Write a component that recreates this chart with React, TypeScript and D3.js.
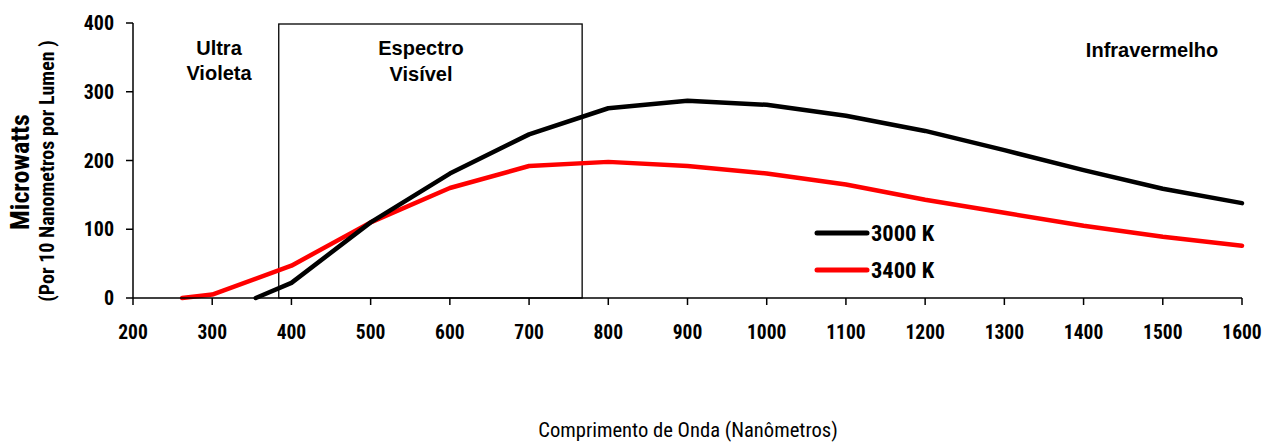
import React from "react";
import * as d3 from "d3";

const xTicks = [200, 300, 400, 500, 600, 700, 800, 900, 1000, 1100, 1200, 1300, 1400, 1500, 1600];
const yTicks = [0, 100, 200, 300, 400];

const series3000X = [355, 400, 500, 600, 700, 800, 900, 1000, 1100, 1200, 1300, 1400, 1500, 1600];
const series3000Y = [0, 22, 110, 181, 238, 276, 287, 281, 265, 243, 215, 186, 159, 138];
const series3400X = [262, 300, 400, 500, 600, 700, 800, 900, 1000, 1100, 1200, 1300, 1400, 1500, 1600];
const series3400Y = [0, 5, 47, 110, 160, 192, 198, 192, 181, 165, 143, 124, 105, 89, 76];

const visibleRange = [384, 767];
const seriesNames = ["3000 K", "3400 K"];
const seriesColors = ["#000000", "#ff0000"];

const FONT = "'Liberation Sans Narrow', 'Roboto Condensed', 'Arial Narrow', 'Liberation Sans', sans-serif";
const WIDE = "'Liberation Sans', Arial, sans-serif";

export default function App() {
  const W = 1264, H = 443;
  const x = d3.scaleLinear().domain([200, 1600]).range([133, 1242]);
  const y = d3.scaleLinear().domain([0, 400]).range([298, 23]);
  const line = d3.line<[number, number]>().x(d => x(d[0])).y(d => y(d[1]));
  const d1 = line(series3000X.map((v, i) => [v, series3000Y[i]]));
  const d2 = line(series3400X.map((v, i) => [v, series3400Y[i]]));

  return (
    <svg width={W} height={H} style={{ position: "absolute", left: 0, top: 0, display: "block" }} fontFamily={FONT}>
      <rect x={0} y={0} width={W} height={H} fill="#fff" />
      {/* visible spectrum box */}
      <rect x={x(visibleRange[0])} y={y(400) + 1} width={x(visibleRange[1]) - x(visibleRange[0])} height={y(0) - y(400) - 1} fill="none" stroke="#000" strokeWidth={1.3} />
      {/* series */}
      <path d={d2 || ""} fill="none" stroke={seriesColors[1]} strokeWidth={4.5} strokeLinejoin="round" strokeLinecap="round" />
      <path d={d1 || ""} fill="none" stroke={seriesColors[0]} strokeWidth={4.5} strokeLinejoin="round" strokeLinecap="round" />
      {/* axes */}
      <line x1={x(200)} x2={x(200)} y1={y(400)} y2={y(0)} stroke="#000" strokeWidth={1.5} />
      <line x1={x(200)} x2={x(1600)} y1={y(0)} y2={y(0)} stroke="#000" strokeWidth={1.5} />
      {yTicks.map(t => (
        <g key={"y" + t}>
          <line x1={x(200) - 7} x2={x(200)} y1={y(t)} y2={y(t)} stroke="#000" strokeWidth={1.5} />
          <text x={x(200) - 19} y={y(t)} dy="0.36em" textAnchor="end" fontSize={20} fontWeight="bold">{t}</text>
        </g>
      ))}
      {xTicks.map(t => (
        <g key={"x" + t}>
          <line x1={x(t)} x2={x(t)} y1={y(0)} y2={y(0) + 7} stroke="#000" strokeWidth={1.5} />
          <text x={x(t)} y={y(0) + 41} textAnchor="middle" fontSize={19.5} fontWeight="bold">{t}</text>
        </g>
      ))}
      {/* region labels */}
      <g fontFamily={WIDE} fontSize={20} fontWeight="bold" textAnchor="middle">
        <text x={219} y={55}>Ultra</text>
        <text x={219} y={80}>Violeta</text>
        <text x={421} y={55}>Espectro</text>
        <text x={421} y={81}>Visível</text>
        <text x={1152} y={57}>Infravermelho</text>
      </g>
      {/* legend */}
      {seriesNames.map((n, i) => (
        <g key={n}>
          <line x1={817} x2={867} y1={233 + i * 37} y2={233 + i * 37} stroke={seriesColors[i]} strokeWidth={5} strokeLinecap="round" />
          <text x={871} y={233 + i * 37} dy="0.36em" fontSize={22.5} fontWeight="bold">{n}</text>
        </g>
      ))}
      {/* axis titles */}
      <text transform="translate(29,172) rotate(-90)" textAnchor="middle" fontSize={26} fontWeight="bold">Microwatts</text>
      <text transform="translate(54,171) rotate(-90)" textAnchor="middle" fontSize={20} fontWeight="bold">(Por 10 Nanometros por Lumen )</text>
      <text x={688} y={437} textAnchor="middle" fontSize={20.6}>Comprimento de Onda (Nanômetros)</text>
    </svg>
  );
}
